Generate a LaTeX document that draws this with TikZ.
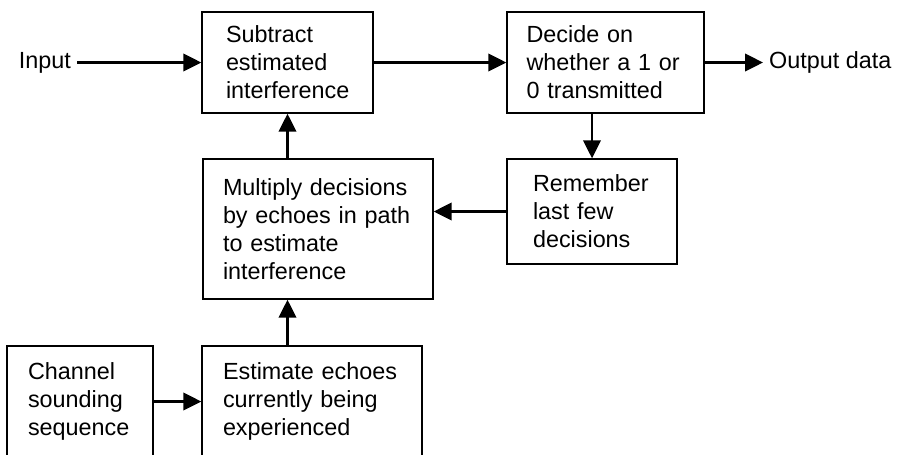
\documentclass[tikz,border=0pt]{standalone}
\usepackage{fontspec}
\setmainfont{Liberation Sans}
\usetikzlibrary{arrows.meta,positioning}

\begin{document}
\begin{tikzpicture}[font=\fontsize{13.3}{15.9}\selectfont,
  blk/.style={draw,line width=0.8pt,align=left,inner xsep=0pt,inner ysep=0pt},
  a/.style={-{Triangle[length=3.6mm,width=3.5mm]},line width=1.3pt}]
\useasboundingbox (0,0) rectangle (18.08,-9.08);
\clip (0,0) rectangle (18.08,-9.08);
\node[blk,minimum width=3.42cm,minimum height=2.02cm,text width=2.46cm] (sub) at (5.75,-1.25)
  {Subtract\\estimated\\interference};
\node[blk,minimum width=3.94cm,minimum height=2.02cm,text width=3.16cm] (dec) at (12.11,-1.25)
  {Decide on\\whether a 1 or\\0 transmitted};
\node[blk,minimum width=3.40cm,minimum height=2.10cm,text width=2.36cm] (rem) at (11.84,-4.23)
  {Remember\\last few\\decisions};
\node[blk,minimum width=4.60cm,minimum height=2.80cm,text width=3.80cm] (mul) at (6.36,-4.58)
  {Multiply decisions\\by echoes in path\\to estimate\\interference};
\node[blk,minimum width=2.92cm,minimum height=2.22cm,text width=2.08cm] (chan) at (1.60,-8.03)
  {Channel\\sounding\\sequence};
\node[blk,minimum width=4.40cm,minimum height=2.22cm,text width=3.56cm] (est) at (6.24,-8.03)
  {Estimate echoes\\currently being\\experienced};
\node[anchor=east] (in) at (1.54,-1.25) {Input};
\node[anchor=west] (out) at (15.26,-1.25) {Output data};
\draw[a] (in) -- (sub);
\draw[a] (sub) -- (dec);
\draw[a] (dec) -- (out);
\draw[a] (dec.south -| rem.north) -- (rem.north);
\draw[a] (rem.west) -- (rem.west -| mul.east);
\draw[a] (mul.north -| sub.south) -- (sub.south);
\draw[a] (est.north -| sub.south) -- (mul.south -| sub.south);
\draw[a] (chan) -- (est);
\end{tikzpicture}
\end{document}
